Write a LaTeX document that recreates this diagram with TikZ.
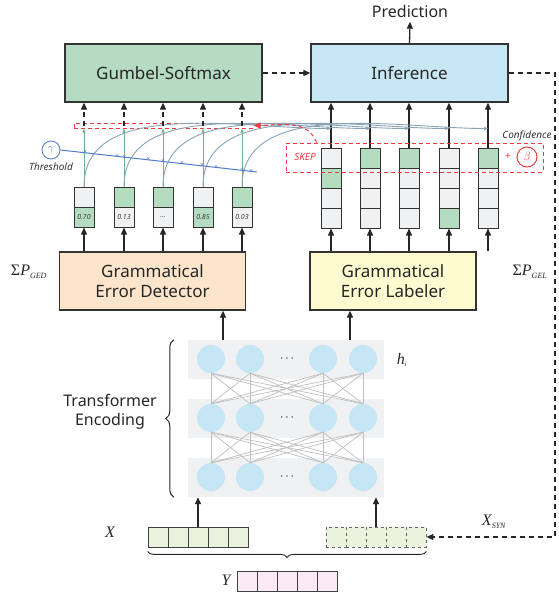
\documentclass[tikz,border=0pt]{standalone}
\usepackage{fontspec}
\setmainfont{Noto Sans}
\newfontfamily\tmr{Liberation Serif}
\usetikzlibrary{arrows.meta, decorations.pathreplacing, positioning}

\definecolor{gumgreen}{HTML}{B5DCC2}
\definecolor{infblue}{HTML}{C8E7F4}
\definecolor{gedpeach}{HTML}{FDE5CB}
\definecolor{gelyellow}{HTML}{FEFBD0}
\definecolor{cellgray}{HTML}{F0F1F3}
\definecolor{cellgreen}{HTML}{B3DCC0}
\definecolor{unitblue}{HTML}{C5E6F4}
\definecolor{skepred}{HTML}{F03A3E}
\definecolor{thrblue}{HTML}{4E7CCB}
\definecolor{curvegray}{HTML}{87A3B5}
\definecolor{linkgreen}{HTML}{74B08A}
\definecolor{inpgreen}{HTML}{EAF3DE}
\definecolor{outpink}{HTML}{FBEAF5}

\tikzset{
  mainbox/.style={draw=black!80, line width=1.3pt, minimum height=58pt, align=center,
    font=\fontsize{17}{20}\selectfont, text=black!85},
  cell/.style={draw=black!80, line width=1pt, minimum width=20pt, minimum height=20pt,
    inner sep=0pt, fill=cellgray, font=\fontsize{7}{8}\selectfont\itshape, text=black!75},
  gcell/.style={cell, fill=cellgreen},
  incell/.style={draw=black!75, line width=0.8pt, minimum width=20pt, minimum height=20pt,
    inner sep=0pt, fill=inpgreen},
  syncell/.style={incell, draw=black!60, dashed},
  outcell/.style={incell, fill=outpink},
  band/.style={fill=cellgray, minimum width=196pt, minimum height=39pt, inner sep=0pt},
  unit/.style={circle, fill=unitblue, minimum size=28pt, inner sep=0pt},
  arr/.style={-{Triangle[length=7pt,width=6pt]}, line width=1.3pt, black!85},
  dasharr/.style={-{Triangle[length=7pt,width=6pt]}, line width=1.2pt, black!85,
    dash pattern=on 5pt off 4pt},
  reddash/.style={draw=skepred, line width=1pt, dash pattern=on 4pt off 3pt},
  xmark/.style={inner sep=0pt, font=\fontsize{7}{7}\selectfont, text=thrblue},
  note/.style={font=\fontsize{10}{12}\selectfont\itshape, text=black!80},
  serifmath/.style={font=\tmr\fontsize{16}{18}\selectfont, text=black!85},
}

\begin{document}
\begin{tikzpicture}[x=1pt, y=-1pt]

    \useasboundingbox (0,0) rectangle (558,594);

    % top modules
    \node[mainbox, fill=gumgreen, minimum width=197pt] (gumbel) at (163.5, 73) {Gumbel-Softmax};
    \node[mainbox, fill=infblue, minimum width=197pt] (infer) at (409.5, 73) {Inference};
    \node[font=\fontsize{16}{18}\selectfont, text=black!85] (pred) at (410, 12) {Prediction};

    \draw[arr] (infer.north) -- (pred.south);
    \draw[dasharr] (gumbel.east) -- (infer.west);

    % detector and labeler
    \node[mainbox, fill=gedpeach, minimum width=186pt] (ged) at (152.5, 281) {Grammatical\\Error Detector};
    \node[mainbox, fill=gelyellow, minimum width=166pt] (gel) at (393, 281) {Grammatical\\Error Labeler};

    \node[serifmath] (sged) at (29, 272) {Σ\textit{P}\textsubscript{\textit{\fontsize{8}{8}\selectfont GED}}};
    \node[serifmath] (sgel) at (530, 272) {Σ\textit{P}\textsubscript{\textit{\fontsize{8}{8}\selectfont GEL}}};

    % detector outputs
    \node[cell] (d1a) at (84, 197) {};
    \node[gcell] (d1b) at (84, 217) {0.70};
    \node[gcell] (d2a) at (124, 197) {};
    \node[cell] (d2b) at (124, 217) {0.13};
    \node[gcell] (d3a) at (163, 197) {};
    \node[cell] (d3b) at (163, 217) {\dots};
    \node[cell] (d4a) at (203, 197) {};
    \node[gcell] (d4b) at (203, 217) {0.85};
    \node[gcell] (d5a) at (242, 197) {};
    \node[cell] (d5b) at (242, 217) {0.03};

    % labeler outputs
    \node[cell] (l1a) at (331, 158) {};
    \node[gcell] (l1b) at (331, 178) {};
    \node[cell] (l1c) at (331, 198) {};
    \node[cell] (l1d) at (331, 218) {};
    \node[gcell] (l2a) at (370, 158) {};
    \node[cell] (l2b) at (370, 178) {};
    \node[cell] (l2c) at (370, 198) {};
    \node[cell] (l2d) at (370, 218) {};
    \node[gcell] (l3a) at (409, 158) {};
    \node[cell] (l3b) at (409, 178) {};
    \node[cell] (l3c) at (409, 198) {};
    \node[cell] (l3d) at (409, 218) {};
    \node[cell] (l4a) at (449, 158) {};
    \node[cell] (l4b) at (449, 178) {};
    \node[cell] (l4c) at (449, 198) {};
    \node[gcell] (l4d) at (449, 218) {};
    \node[gcell] (l5a) at (488, 158) {};
    \node[cell] (l5b) at (488, 178) {};
    \node[cell] (l5c) at (488, 198) {};
    \node[cell] (l5d) at (488, 218) {};

    \foreach \i in {1,...,5} {
      \draw[arr] (ged.north -| d\i b.south) -- (d\i b.south);
      \draw[arr] (gel.north -| l\i d.south) -- (l\i d.south);
      \draw[arr] (l\i a.north) -- (l\i a.north |- infer.south);
    }

    % gate before gumbel-softmax
    \node[reddash, minimum width=179pt, minimum height=5pt, inner sep=0pt] (gate) at (163.5, 125.5) {};

    \foreach \i in {1,...,5} {
      \draw[linkgreen, line width=0.9pt, -{Triangle[length=4pt,width=3pt]}] (d\i a.north) -- (d\i a.north |- gate.south);
      \draw[dasharr] (d\i a.north |- gate.center) -- (d\i a.north |- gumbel.south);
      \draw[curvegray, line width=0.9pt, -{Triangle[length=4pt,width=3pt]}]
        (d\i a.north) to[out=90, in=180, looseness=0.9] (l\i a.north |- gate.south);
    }

    % threshold
    \node[circle, draw=thrblue, line width=0.8pt, minimum size=18pt, inner sep=0pt, text=thrblue,
      font=\tmr\itshape\fontsize{11}{11}\selectfont] (gam) at (51, 150) {$\gamma$};
    \node[note] (thrtext) at (51, 167) {Threshold};
    \coordinate (thrend) at (257, 172);
    \draw[thrblue, line width=1pt] (gam.east) -- (thrend)
      node[xmark, pos=0.127] {×} node[xmark, pos=0.289] {×} node[xmark, pos=0.325] {×}
      node[xmark, pos=0.447] {×} node[xmark, pos=0.523] {×} node[xmark, pos=0.619] {×}
      node[xmark, pos=0.721] {×} node[xmark, pos=0.792] {×} node[xmark, pos=0.924] {×}
      node[xmark, pos=0.970] {×};

    % skep and confidence
    \node[reddash, minimum width=257pt, minimum height=29pt, inner sep=0pt] (skep) at (414.5, 157.5) {};
    \node[note, text=skepred] (skeptext) at (305, 157) {SKEP};
    \node[text=skepred, font=\fontsize{10}{10}\selectfont] (plus) at (508, 157) {+};
    \node[circle, draw=skepred, line width=1pt, minimum size=20pt, inner sep=0pt, text=skepred,
      font=\tmr\itshape\fontsize{13}{13}\selectfont] (beta) at (527, 157) {$\beta$};
    \node[note] (conf) at (527, 136) {Confidence};
    \draw[reddash, -{Triangle[length=7pt,width=6pt]}] ([xshift=31pt]skep.north west)
      to[out=110, in=0] (gate.east);

    % transformer encoding
    \node[band] (row1) at (286, 359.5) {};
    \node[band] (row2) at (286, 418.5) {};
    \node[band] (row3) at (286, 477.5) {};

    \foreach \r/\y in {1/359, 2/418, 3/477} {
      \node[unit] (c\r1) at (211, \y) {};
      \node[unit] (c\r2) at (250, \y) {};
      \node[font=\fontsize{12}{12}\selectfont] (dots\r) at (287, \y) {$\cdots$};
      \node[unit] (c\r3) at (323, \y) {};
      \node[unit] (c\r4) at (363, \y) {};
    }

    \foreach \a in {1,...,4} {
      \foreach \b in {1,...,4} {
        \draw[black!25, line width=0.7pt] (c1\a.south) -- (c2\b.north);
        \draw[black!25, line width=0.7pt] (c2\a.south) -- (c3\b.north);
      }
    }

    \node[font=\tmr\itshape\fontsize{16}{16}\selectfont, text=black!85] (hi) at (402, 360) {h\textsubscript{\fontsize{7}{7}\selectfont i}};
    \node[align=center, font=\fontsize{16}{19}\selectfont, text=black!85] (enc) at (110, 412) {Transformer\\Encoding};
    \draw[decorate, decoration={brace, amplitude=8pt}, line width=1pt, black!85]
      ([xshift=-14pt]row3.south west) -- ([xshift=-14pt]row1.north west);

    \coordinate (encl) at (223, 340);
    \coordinate (encr) at (350, 340);
    \draw[arr] (encl) -- (encl |- ged.south);
    \draw[arr] (encr) -- (encr |- gel.south);

    % inputs
    \node[incell] (x1) at (158, 537) {};
    \node[incell] (x2) at (178, 537) {};
    \node[incell] (x3) at (198, 537) {};
    \node[incell] (x4) at (218, 537) {};
    \node[incell] (x5) at (238, 537) {};

    \node[syncell] (s1) at (336, 537) {};
    \node[syncell] (s2) at (356, 537) {};
    \node[syncell] (s3) at (376, 537) {};
    \node[syncell] (s4) at (396, 537) {};
    \node[syncell] (s5) at (416, 537) {};

    \node[outcell] (y1) at (247, 581) {};
    \node[outcell] (y2) at (267, 581) {};
    \node[outcell] (y3) at (287, 581) {};
    \node[outcell] (y4) at (307, 581) {};
    \node[outcell] (y5) at (327, 581) {};

    \node[font=\tmr\itshape\fontsize{16}{16}\selectfont, text=black!85] (xlab) at (110, 532) {X};
    \node[font=\tmr\itshape\fontsize{16}{16}\selectfont, text=black!85] (xsynlab) at (494, 522) {X\textsubscript{\fontsize{8}{8}\selectfont SYN}};
    \node[font=\tmr\itshape\fontsize{16}{16}\selectfont, text=black!85] (ylab) at (226, 580) {Y};

    \draw[arr] (x3.north) -- (x3.north |- row3.south);
    \draw[arr] (s3.north) -- (s3.north |- row3.south);

    \draw[decorate, decoration={brace, amplitude=6pt}, line width=0.9pt, black!85]
      ([yshift=-4pt]s5.south east) -- ([yshift=-4pt]x1.south west);

    % synthetic data loop
    \coordinate (loop) at (555, 537);
    \draw[dasharr] (infer.east) -| (loop) -- (s5.east);

  \end{tikzpicture}
\end{document}
